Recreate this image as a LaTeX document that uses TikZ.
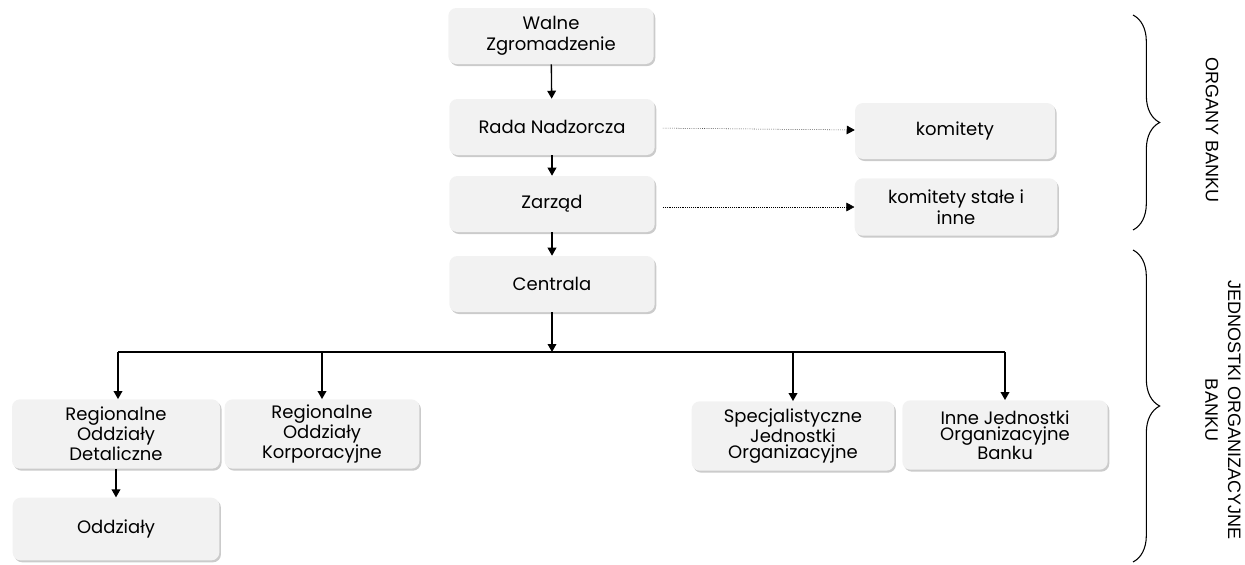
\documentclass[tikz,border=0pt]{standalone}
\usepackage{fontspec}
\setmainfont{Poppins}
\newfontfamily\sidefont{Liberation Sans}
\usetikzlibrary{positioning,arrows.meta,shadows,decorations.pathreplacing}
\definecolor{boxgray}{HTML}{F2F2F2}

\begin{document}
\begin{tikzpicture}[x=0.75pt, y=-0.75pt,
    unit/.style={rectangle, rounded corners=6pt, fill=boxgray, align=center, inner sep=1pt,
      drop shadow={shadow xshift=1.2pt, shadow yshift=-1.5pt, opacity=0.45, fill=black!45},
      font=\fontsize{13.5}{16}\selectfont},
    organ/.style={unit, minimum width=154pt, minimum height=42pt},
    branch/.style={unit, minimum height=52pt, font=\fontsize{13.5}{12}\selectfont},
    arr/.style={-{Triangle[width=6.5pt,length=6pt]}, line width=1pt},
    dotarr/.style={-{Triangle[width=6.5pt,length=6pt]}, densely dotted, shorten <=6pt},
    curly/.style={decorate, decoration={brace, amplitude=20pt}, line width=0.8pt},
    side/.style={rotate=-90, align=center, font=\sidefont\fontsize{13.5}{17}\selectfont}]
    \useasboundingbox (0,0) rectangle (1245,564);

    % organy banku
    \node[organ] (walne) at (551,36) {Walne\\Zgromadzenie};
    \node[organ] (rada) at (552,127) {Rada Nadzorcza};
    \node[organ] (zarzad) at (552,204) {Zarząd};
    \node[organ] (centrala) at (552,284) {Centrala};
    \node[unit, minimum width=150pt, minimum height=42pt] (komitety) at (955,131) {komitety};
    \node[unit, minimum width=152pt, minimum height=43pt] (stale) at (956,207) {komitety stałe i\\inne};

    % jednostki organizacyjne
    \node[branch, minimum width=156pt] (rod) at (116,434) {Regionalne\\Oddziały\\Detaliczne};
    \node[branch, minimum width=146pt] (rok) at (322,434) {Regionalne\\Oddziały\\Korporacyjne};
    \node[branch, minimum width=152pt] (sjo) at (793,436) {Specjalistyczne\\Jednostki\\Organizacyjne};
    \node[branch, minimum width=154pt] (ijo) at (1005,435) {Inne Jednostki\\Organizacyjne\\Banku};
    \node[unit, minimum width=155pt, minimum height=47pt] (oddzialy) at (116,529) {Oddziały};

    \coordinate (busL) at (118,352);
    \coordinate (busR) at (1005,352);

    \draw[arr] (walne) -- (rada);
    \draw[arr] (rada) -- (zarzad);
    \draw[arr] (zarzad) -- (centrala);
    \draw[dotarr] (rada) -- (komitety);
    \draw[dotarr] (zarzad.east |- stale.west) -- (stale);
    \draw[arr] (centrala) -- (centrala |- busL);
    \draw[line width=1pt] (busL) -- (busR);
    \draw[arr] (busL) -- (busL |- rod.north);
    \draw[arr] (rok.north |- busL) -- (rok);
    \draw[arr] (sjo.north |- busL) -- (sjo);
    \draw[arr] (ijo.north |- busL) -- (ijo);
    \draw[arr] (rod) -- (oddzialy);

    % klamry
    \draw[curly] (1133,15) -- (1133,230);
    \draw[curly] (1133,250) -- (1133,562);
    \node[side] (organy) at (1212,130) {ORGANY BANKU};
    \node[side] (jednostki) at (1223,410) {JEDNOSTKI ORGANIZACYJNE\\BANKU};
\end{tikzpicture}
\end{document}
